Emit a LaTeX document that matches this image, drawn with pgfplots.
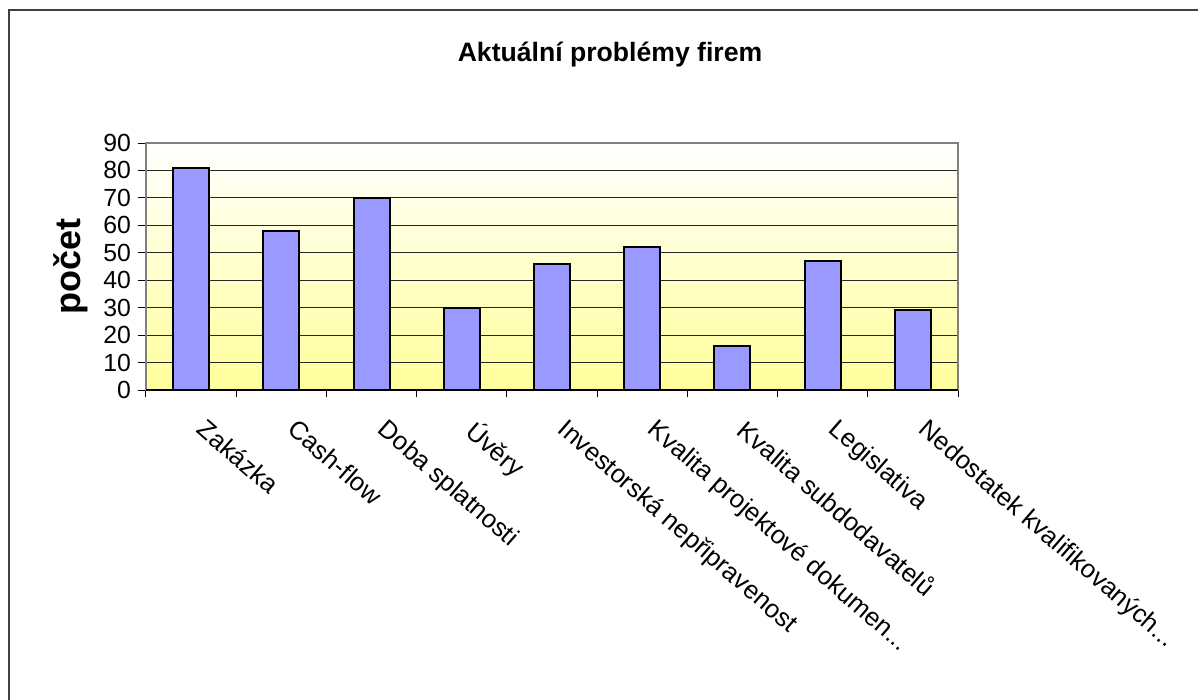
\documentclass[border=0pt]{standalone}
\usepackage{fontspec}
\setmainfont{Liberation Sans}
\usepackage{pgfplots}
\pgfplotsset{compat=1.18}
\definecolor{barblue}{RGB}{153,153,255}
\definecolor{bgyellow}{RGB}{255,255,153}
\definecolor{framegray}{RGB}{64,64,64}
\newcommand{\threedots}{{.}{.}{.}}
\begin{document}
\begin{tikzpicture}
\useasboundingbox[fill=white] (0,0) rectangle (599pt,-350pt);
% outer chart frame (cut at right and bottom as in the reference)
\draw[framegray, line width=1pt] (4.5pt,-350pt) -- (4.5pt,-5.25pt) -- (599pt,-5.25pt);
% title
\node[anchor=base, font=\bfseries\fontsize{13.3}{16}\selectfont] at (305pt,-30.85pt) {Aktuální problémy firem};
\begin{axis}[
  at={(73pt,-195pt)}, anchor=south west,
  scale only axis,
  width=406pt, height=123.5pt,
  xmin=0.5, xmax=9.5,
  ymin=0, ymax=90,
  ytick={0,10,...,90},
  xtick={1,2,3,4,5,6,7,8,9},
  xticklabels={{Zakázka}, {Cash-flow}, {Doba splatnosti}, {Úvěry}, {Investorská nepřipravenost}, {Kvalita projektové dokumen\threedots}, {Kvalita subdodavatelů}, {Legislativa}, {Nedostatek kvalifikovaných\threedots}},
  minor xtick={0.5,1.5,2.5,3.5,4.5,5.5,6.5,7.5,8.5,9.5},
  major x tick style={draw=none},
  xtick pos=bottom, ytick pos=left,
  tick align=outside,
  major tick length=4pt,
  minor tick length=3.5pt,
  tick style={black, line width=0.5pt},
  ymajorgrids,
  major grid style={black!85, line width=0.5pt},
  axis line style={gray, line width=0.75pt},
  axis background/.style={top color=white, bottom color=bgyellow},
  /pgf/number format/assume math mode=true,
  yticklabel style={font=\fontsize{12.4}{14}\selectfont},
  xticklabel style={xshift=8.5pt, yshift=-9.5pt, font=\fontsize{12.8}{15}\selectfont, rotate=-41, anchor=north west, inner sep=0pt},
  ylabel={počet},
  every axis y label/.style={at={(axis description cs:-0.0924,0.5)}, rotate=90, anchor=center, font=\bfseries\fontsize{18}{21}\selectfont},
]
\addplot[ybar, bar width=18pt, fill=barblue, draw=black, line width=1pt] coordinates {
  (1,81) (2,58) (3,70) (4,30) (5,46) (6,52) (7,16) (8,47) (9,29)
};
\draw[black, line width=0.75pt] (axis cs:0.5,0) -- (axis cs:9.5,0);
\end{axis}
\end{tikzpicture}
\end{document}
